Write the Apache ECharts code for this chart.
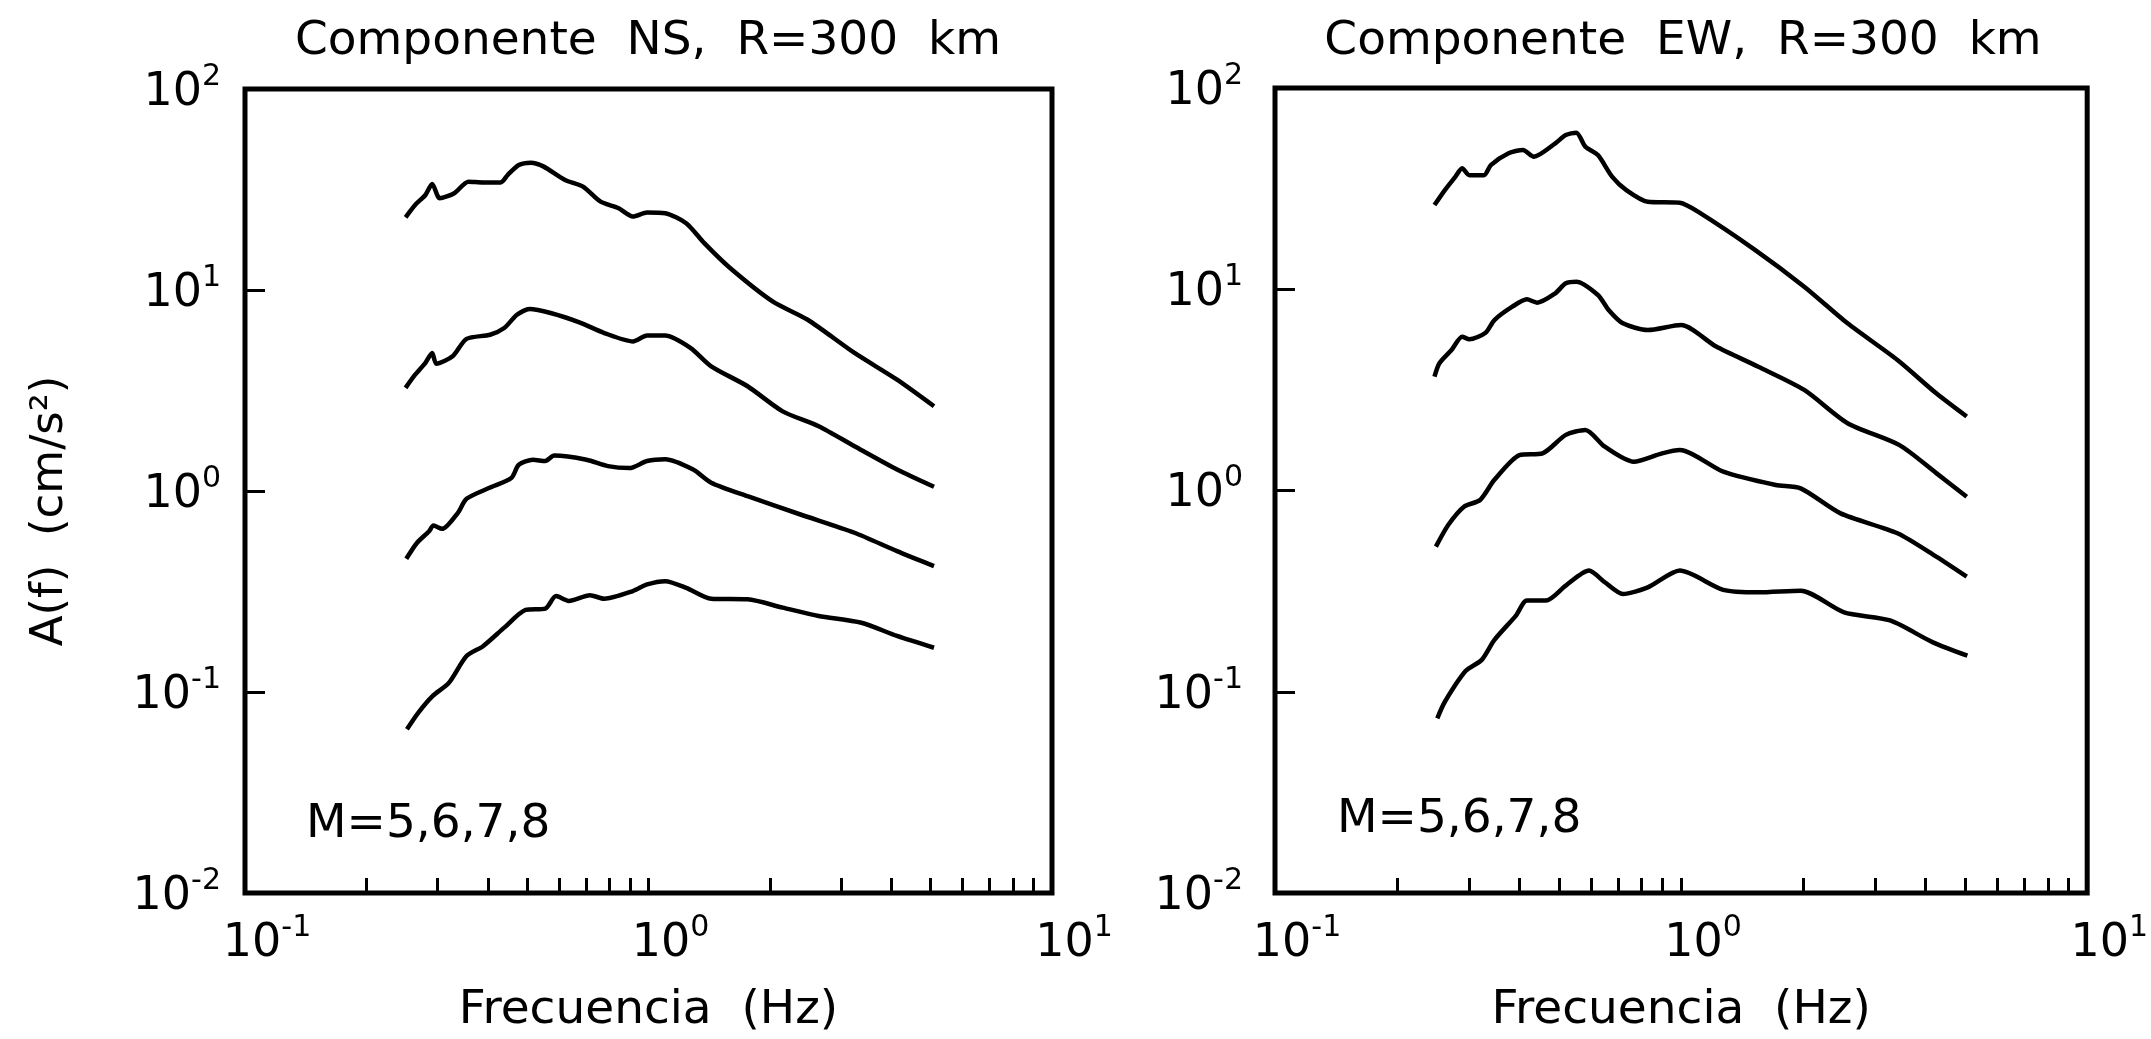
<!DOCTYPE html>
<html>
<head>
<meta charset="utf-8">
<title>Componente NS / EW, R=300 km</title>
<script src="https://cdn.jsdelivr.net/npm/echarts@6.0.0/dist/echarts.min.js"></script>
<style>
html, body { margin: 0; padding: 0; background: #fff; }
#chart { width: 2151px; height: 1039px; }
</style>
</head>
<body>
<div id="chart"></div>
<script>
// tick values (log axes)
var xLabelValues = [0.1, 1, 10];
var xTickValues = [0.2, 0.3, 0.4, 0.5, 0.6, 0.7, 0.8, 0.9, 1, 2, 3, 4, 5, 6, 7, 8, 9];
var yLabelValues = [0.01, 0.1, 1, 10, 100];
var yTickValues = [0.1, 1, 10];

var titles = ['Componente  NS,  R=300  km', 'Componente  EW,  R=300  km'];
var magnitudes = [5, 6, 7, 8];

// [frecuencia (Hz), A(f) (cm/s2)]
var ns8 = [[0.25,23.0],[0.264,26.5],[0.28,29.7],[0.291,33.7],[0.304,28.6],[0.33,30.3],[0.358,34.6],[0.389,34.3],[0.43,34.3],[0.448,37.4],[0.477,41.9],[0.511,43.0],[0.55,41.1],[0.621,35.3],[0.688,32.7],[0.761,27.5],[0.843,25.5],[0.915,23.2],[0.992,24.3],[1.10,24.1],[1.24,21.5],[1.375,17.1],[1.59,12.9],[2.03,8.77],[2.48,7.11],[3.24,4.86],[4.13,3.58],[5.1,2.64]];
var ns7 = [[0.25,3.26],[0.264,3.79],[0.28,4.34],[0.291,4.86],[0.298,4.30],[0.327,4.68],[0.354,5.71],[0.405,5.99],[0.439,6.47],[0.472,7.53],[0.507,8.04],[0.572,7.68],[0.674,6.90],[0.777,6.11],[0.915,5.55],[0.992,5.93],[1.10,5.93],[1.27,5.15],[1.43,4.17],[1.76,3.32],[2.15,2.49],[2.64,2.10],[3.24,1.67],[4.13,1.28],[5.1,1.05]];
var ns6 = [[0.251,0.460],[0.267,0.553],[0.286,0.631],[0.293,0.674],[0.308,0.648],[0.337,0.779],[0.354,0.914],[0.405,1.04],[0.457,1.16],[0.477,1.35],[0.517,1.43],[0.555,1.41],[0.584,1.50],[0.702,1.43],[0.793,1.33],[0.896,1.30],[0.992,1.41],[1.10,1.44],[1.29,1.28],[1.43,1.10],[1.76,0.942],[2.38,0.764],[3.24,0.620],[4.13,0.502],[5.1,0.423]];
var ns5 = [[0.252,0.0653],[0.269,0.079],[0.292,0.0956],[0.32,0.111],[0.354,0.151],[0.389,0.169],[0.439,0.209],[0.496,0.256],[0.555,0.260],[0.59,0.300],[0.634,0.284],[0.716,0.303],[0.777,0.291],[0.915,0.318],[0.992,0.343],[1.10,0.356],[1.24,0.330],[1.43,0.291],[1.76,0.289],[2.15,0.263],[2.64,0.239],[3.37,0.221],[4.13,0.190],[5.1,0.166]];

var ew8 = [[0.247,26.2],[0.262,31.1],[0.278,36.2],[0.289,39.9],[0.301,36.9],[0.327,36.9],[0.34,41.4],[0.376,47.4],[0.408,49.2],[0.434,45.6],[0.49,53.1],[0.52,58.4],[0.552,60.0],[0.581,51.1],[0.624,46.4],[0.676,36.3],[0.733,31.1],[0.828,27.2],[0.993,26.9],[1.10,24.3],[1.52,15.7],[2.01,10.3],[2.57,6.77],[3.41,4.45],[4.25,3.04],[5.05,2.33]];
var ew7 = [[0.247,3.68],[0.254,4.29],[0.272,4.99],[0.289,5.81],[0.301,5.64],[0.33,6.08],[0.347,7.03],[0.384,8.19],[0.417,8.91],[0.442,8.58],[0.49,9.55],[0.52,10.7],[0.552,10.9],[0.624,9.36],[0.663,7.89],[0.719,6.77],[0.828,6.27],[1.0,6.64],[1.22,5.19],[1.55,4.12],[2.01,3.16],[2.57,2.16],[3.45,1.68],[4.25,1.22],[5.05,0.932]];
var ew6 = [[0.249,0.526],[0.267,0.674],[0.292,0.831],[0.32,0.897],[0.347,1.13],[0.40,1.50],[0.456,1.53],[0.52,1.89],[0.581,2.00],[0.649,1.65],[0.764,1.39],[0.898,1.53],[0.993,1.59],[1.27,1.24],[1.71,1.065],[1.97,1.025],[2.47,0.770],[3.41,0.613],[4.25,0.469],[5.05,0.373]];
var ew5 = [[0.251,0.0738],[0.262,0.0892],[0.295,0.127],[0.323,0.144],[0.347,0.181],[0.392,0.239],[0.417,0.284],[0.465,0.284],[0.52,0.337],[0.593,0.400],[0.649,0.350],[0.719,0.306],[0.828,0.330],[0.993,0.400],[1.27,0.321],[1.55,0.312],[1.97,0.318],[2.52,0.248],[3.27,0.226],[4.17,0.176],[5.07,0.151]];

var FONT = 'DejaVu Sans';
var chart = echarts.init(document.getElementById('chart'));

function powLabel(v) {
  var e = Math.round(Math.log10(v));
  return '{b|10}{s|' + (e < 0 ? '-' + (-e) : e) + '}';
}
var powRich = {
  b: { fontFamily: FONT, fontSize: 46, lineHeight: 54, color: '#000', verticalAlign: 'bottom' },
  s: { fontFamily: FONT, fontSize: 30, lineHeight: 30, color: '#000', verticalAlign: 'top' }
};

function makeX(i) {
  return {
    type: 'log', logBase: 10, gridIndex: i, min: 0.1, max: 10,
    name: 'Frecuencia  (Hz)', nameLocation: 'middle', nameGap: 94,
    nameTextStyle: { fontFamily: FONT, fontSize: 47, color: '#000' },
    axisLine: { show: false },
    axisTick: { show: true, inside: true, length: 15, customValues: xTickValues,
      lineStyle: { color: '#000', width: 3 } },
    axisLabel: { customValues: xLabelValues, formatter: powLabel, rich: powRich,
      margin: 20, padding: [0, 0, 0, 44] },
    splitLine: { show: false }
  };
}
function makeY(i, margin) {
  return {
    type: 'log', logBase: 10, gridIndex: i, min: 0.01, max: 100,
    axisLine: { show: false },
    axisTick: { show: true, inside: true, length: 20, customValues: yTickValues,
      lineStyle: { color: '#000', width: 3 } },
    axisLabel: { customValues: yLabelValues, formatter: powLabel, rich: powRich,
      margin: margin, align: 'right' },
    splitLine: { show: false }
  };
}
function curve(data, i, m) {
  return {
    name: 'M=' + m, type: 'line', xAxisIndex: i, yAxisIndex: i, data: data,
    showSymbol: false, smooth: 0.25,
    lineStyle: { color: '#000', width: 4.5 }
  };
}

var option = {
  backgroundColor: '#fff',
  animation: false,
  title: [
    { text: titles[0], left: 648, top: 18, textAlign: 'center', padding: 0,
      textStyle: { fontFamily: FONT, fontSize: 47, fontWeight: 'normal', color: '#000' } },
    { text: titles[1], left: 1683, top: 18, textAlign: 'center', padding: 0,
      textStyle: { fontFamily: FONT, fontSize: 47, fontWeight: 'normal', color: '#000' } }
  ],
  grid: [
    { left: 245, top: 89, width: 807, height: 805, show: true, borderColor: '#000', borderWidth: 5 },
    { left: 1275, top: 88, width: 816, height: 805, show: true, borderColor: '#000', borderWidth: 5 }
  ],
  xAxis: [makeX(0), makeX(1)],
  yAxis: [makeY(0, 24), makeY(1, 32)],
  graphic: [
    { type: 'text', x: 50, y: 511, rotation: Math.PI / 2,
      style: { text: 'A(f)  (cm/s²)', font: '45px "DejaVu Sans"', fill: '#000',
        align: 'center', verticalAlign: 'middle' } },
    { type: 'text', x: 306, y: 825,
      style: { text: 'M=' + magnitudes.join(','), font: '47px "DejaVu Sans"', fill: '#000',
        align: 'left', verticalAlign: 'middle' } },
    { type: 'text', x: 1337, y: 820,
      style: { text: 'M=' + magnitudes.join(','), font: '47px "DejaVu Sans"', fill: '#000',
        align: 'left', verticalAlign: 'middle' } }
  ],
  series: [
    curve(ns5, 0, 5), curve(ns6, 0, 6), curve(ns7, 0, 7), curve(ns8, 0, 8),
    curve(ew5, 1, 5), curve(ew6, 1, 6), curve(ew7, 1, 7), curve(ew8, 1, 8)
  ]
};
chart.setOption(option);
</script>
</body>
</html>
